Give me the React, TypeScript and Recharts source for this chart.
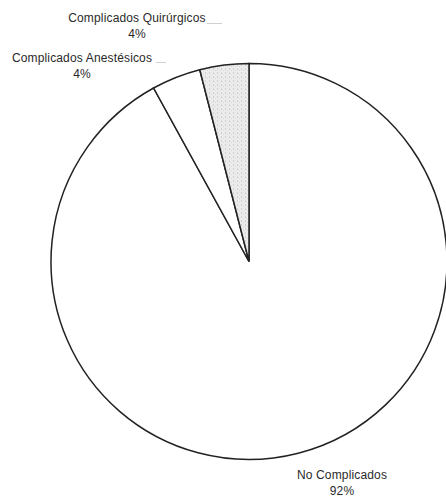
import React from 'react';
import { PieChart, Pie, Cell } from 'recharts';

const categories = ['No Complicados', 'Complicados Anestésicos', 'Complicados Quirúrgicos'];
const values = [92, 4, 4];
const percentLabels = ['92%', '4%', '4%'];

const fills = ['#ffffff', '#ffffff', 'url(#dotShade)'];
// label offsets relative to pie centre (dx, dy)
const labelOffsets = [
  [93, 213],
  [-167, -204],
  [-112, -244],
];
const leaderLines = [null, [-93, -199, -83, -199], [-42, -238, -27, -238]];

const data = categories.map((name, i) => ({ name, value: values[i] }));

const renderLabel = (props: any) => {
  const { cx, cy, index } = props;
  const [dx, dy] = labelOffsets[index];
  const x = cx + dx;
  const y = cy + dy;
  const ll = leaderLines[index];
  return (
    <g key={`lbl-${index}`}>
      <text x={x} y={y} textAnchor="middle" dominantBaseline="central" fontSize={12} letterSpacing={0.15} fill="#2a2a2a" fontFamily="'Liberation Sans', Arial, sans-serif">
        {categories[index]}
      </text>
      <text x={x} y={y + 16} textAnchor="middle" dominantBaseline="central" fontSize={12} letterSpacing={0.15} fill="#2a2a2a" fontFamily="'Liberation Sans', Arial, sans-serif">
        {percentLabels[index]}
      </text>
      {ll && <line x1={cx + ll[0]} y1={cy + ll[1]} x2={cx + ll[2]} y2={cy + ll[3]} stroke="#d0d0d0" strokeWidth={1} />}
    </g>
  );
};

export default function App() {
  return (
    <div style={{ position: 'absolute', left: 0, top: 0, background: '#fff' }}>
      <PieChart width={446} height={498} margin={{ top: 0, right: 0, bottom: 0, left: 0 }}>
        <defs>
          <pattern id="dotShade" patternUnits="userSpaceOnUse" width="4" height="4">
            <rect width="4" height="4" fill="#ececec" />
            <rect x="1" y="0" width="1" height="2" fill="#cfcfcf" />
            <rect x="3" y="2" width="1" height="1" fill="#d8d8d8" />
          </pattern>
        </defs>
        <Pie
          data={data}
          dataKey="value"
          nameKey="name"
          cx={249}
          cy={261.5}
          outerRadius={198}
          startAngle={90}
          endAngle={-270}
          stroke="#222"
          strokeWidth={1.5}
          isAnimationActive={false}
          label={renderLabel}
          labelLine={false}
        >
          {data.map((d, i) => (
            <Cell key={d.name} fill={fills[i]} />
          ))}
        </Pie>
      </PieChart>
    </div>
  );
}
